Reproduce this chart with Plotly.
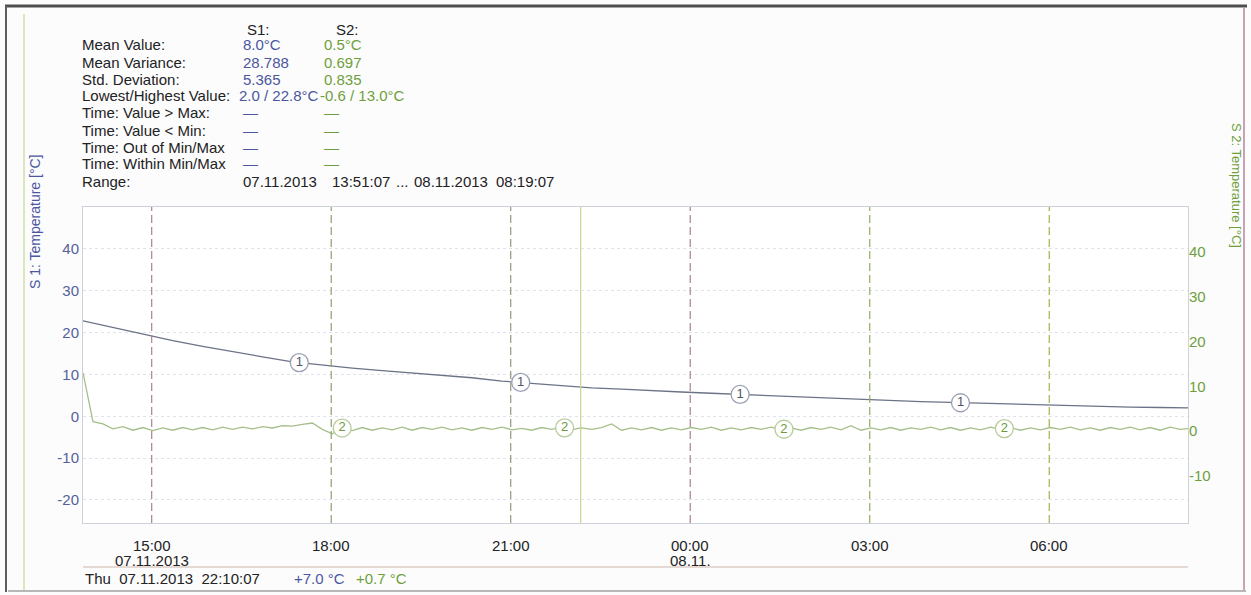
import numpy as np
import pandas as pd
import plotly.graph_objects as go

# ---- logged data -------------------------------------------------------
START = "2013-11-07 13:51:07"
END = "2013-11-08 08:19:07"

# S1 temperature, logged every 30 min from START (°C)
s1_values = [
    22.8, 21.2, 19.6, 18.1, 16.7, 15.4, 14.2, 13.0, 12.2, 11.5,
    10.9, 10.3, 9.7, 9.2, 8.4, 7.9, 7.3, 6.8, 6.5, 6.1,
    5.8, 5.5, 5.2, 4.9, 4.6, 4.3, 4.0, 3.8, 3.5, 3.3,
    3.1, 2.9, 2.7, 2.5, 2.4, 2.2, 2.1, 2.0,
]

# S2 temperature, logged every 10 min from START (°C)
s2_values = [
    13.0, 2.1, 1.6, 0.5, 1.0, 0.2, 0.8, 0.1, 0.7, 0.2, 0.8, 0.3,
    0.8, 0.3, 0.9, 0.4, 0.9, 0.5, 1.0, 0.7, 1.2, 1.1, 1.5, 1.8,
    0.4, -0.6, 0.7, 0.1, 0.8, 0.2, 0.7, 0.3, 0.9, 0.2, 0.8, 0.4,
    0.9, 0.3, 0.7, 0.2, 0.8, 0.4, 0.9, 0.3, 0.6, 0.2, 0.8, 0.4,
    0.9, 0.3, 0.7, 0.4, 0.8, 1.6, 0.2, 0.7, 0.3, 0.8, 0.2, 0.7,
    0.3, 0.8, 0.4, 0.9, 0.2, 0.7, 0.3, 0.8, 0.4, 0.9, 0.3, 0.7,
    0.2, 0.8, 0.4, 0.9, 0.3, 1.2, 0.2, 0.7, 0.3, 0.8, 0.2, 0.7,
    0.4, 0.9, 0.3, 0.8, 0.2, 0.7, 0.3, 0.9, 0.4, 0.8, 0.2, 0.7,
    0.3, 0.8, 0.4, 0.9, 0.3, 0.7, 0.2, 0.8, 0.4, 0.9, 0.3, 0.8,
    0.2, 0.9, 0.4, 0.6,
]

# cursor reading shown in the status line
cursor_time = "2013-11-07 22:10:07"
cursor_s1 = 7.0
cursor_s2 = 0.7

# summary statistics
stat_labels = ["Mean Value:", "Mean Variance:", "Std. Deviation:", "Lowest/Highest Value:",
               "Time: Value > Max:", "Time: Value < Min:", "Time: Out of Min/Max",
               "Time: Within Min/Max"]
stat_s1 = ["8.0°C", "28.788", "5.365", "2.0 / 22.8°C", "—", "—", "—", "—"]
stat_s2 = ["0.5°C", "0.697", "0.835", "-0.6 / 13.0°C", "—", "—", "—", "—"]
range_parts = ["07.11.2013", "13:51:07", "...", "08.11.2013", "08:19:07"]

# axis ticks
tick_times = ["2013-11-07 15:00", "2013-11-07 18:00", "2013-11-07 21:00",
              "2013-11-08 00:00", "2013-11-08 03:00", "2013-11-08 06:00"]
tick_hours = ["15:00", "18:00", "21:00", "00:00", "03:00", "06:00"]
tick_dates = ["07.11.2013", "", "", "08.11.", "", ""]
tick_line_colors = ["#a58494", "#8d9e72", "#8f9a7c", "#a58494", "#8fae5e", "#a3b24e"]
s1_ticks = [-20, -10, 0, 10, 20, 30, 40]
s2_ticks = [-10, 0, 10, 20, 30, 40]

# positions of the circled channel numbers
s1_badge_times = ["2013-11-07 17:28", "2013-11-07 21:10", "2013-11-08 00:50", "2013-11-08 04:31"]
s2_badge_times = ["2013-11-07 18:11", "2013-11-07 21:54", "2013-11-08 01:34", "2013-11-08 05:15"]

# ---- series assembly ---------------------------------------------------
def with_cursor(times, values, c_time, c_val):
    df = pd.DataFrame({"t": times, "v": values})
    df = pd.concat([df, pd.DataFrame({"t": [pd.Timestamp(c_time)], "v": [c_val]})])
    return df.sort_values("t").reset_index(drop=True)

s1_times = pd.date_range(START, periods=len(s1_values), freq="30min")
s2_times = pd.date_range(START, periods=len(s2_values), freq="10min")
s1 = with_cursor(s1_times, s1_values, cursor_time, cursor_s1)
s2 = with_cursor(s2_times, s2_values, cursor_time, cursor_s2)


def value_at(df, when):
    t = pd.to_datetime(when).value
    return float(np.interp(t, df["t"].astype("int64"), df["v"]))


S1_LINE = "#6c7387"
S1_TEXT = "#4b569e"
S2_LINE = "#a6bf8a"
S2_TEXT = "#6f9f3c"
INK = "#222222"
FONT = "Liberation Sans, Arial, sans-serif"

fig = go.Figure()

fig.add_trace(go.Scatter(x=s1["t"], y=s1["v"], mode="lines",
                         line=dict(color=S1_LINE, width=1.3), yaxis="y", hoverinfo="skip"))
fig.add_trace(go.Scatter(x=s2["t"], y=s2["v"], mode="lines",
                         line=dict(color=S2_LINE, width=1.3), yaxis="y2", hoverinfo="skip"))

fig.add_trace(go.Scatter(
    x=pd.to_datetime(s1_badge_times), y=[value_at(s1, t) for t in s1_badge_times],
    mode="markers+text", text=["1"] * len(s1_badge_times), textposition="middle center",
    textfont=dict(color="#4f5466", size=13, family=FONT),
    marker=dict(size=18, color="white", line=dict(color="#9aa0b4", width=1.3)),
    yaxis="y", hoverinfo="skip"))
fig.add_trace(go.Scatter(
    x=pd.to_datetime(s2_badge_times), y=[value_at(s2, t) for t in s2_badge_times],
    mode="markers+text", text=["2"] * len(s2_badge_times), textposition="middle center",
    textfont=dict(color="#6e9a3c", size=13, family=FONT),
    marker=dict(size=18, color="white", line=dict(color="#b7cc9c", width=1.3)),
    yaxis="y2", hoverinfo="skip"))

# plot area in pixels
PL, PR, PT, PB = 83, 1188, 207, 523
W, H = 1251, 595

shapes = []
# dashed time markers
for t, c in zip(tick_times, tick_line_colors):
    shapes.append(dict(type="line", xref="x", yref="paper", x0=t, x1=t, y0=0, y1=1,
                       line=dict(color=c, width=1.2, dash="8px,4px"), layer="above"))
# cursor line
shapes.append(dict(type="line", xref="x", yref="paper", x0=cursor_time, x1=cursor_time,
                   y0=0, y1=1, line=dict(color="#cdd48a", width=1.2)))


def px_x(x):
    return (x - PL) / (PR - PL)


def px_y(y):
    return (PB - y) / (PB - PT)


def px_line(x0, y0, x1, y1, color, width):
    return dict(type="line", xref="paper", yref="paper",
                x0=px_x(x0), x1=px_x(x1), y0=px_y(y0), y1=px_y(y1),
                line=dict(color=color, width=width), layer="above")

# frame of the printout
shapes += [
    px_line(5, 6, 1247, 6, "#4e4e4e", 3),
    px_line(6, 6, 6, 592, "#5e5e5e", 2),
    px_line(24, 14, 24, 590, "#cfe0a8", 1.5),
    px_line(1244, 8, 1244, 590, "#c9a3b3", 2),
    px_line(8, 591, 1246, 591, "#a0a0a0", 1.5),
    px_line(PL, 567, PR, 567, "#dccfc4", 1.3),
]

annotations = []


def px_text(x, y, text, color=INK, size=15, anchor="left", xref="paper", **kw):
    annotations.append(dict(xref=xref, yref="paper",
                            x=px_x(x) if xref == "paper" else x, y=px_y(y),
                            text=text, showarrow=False, xanchor=anchor, yanchor="middle",
                            font=dict(family=FONT, size=size, color=color), **kw))

# statistics block
row0, step = 45, 17.0
px_text(245, 30, "S1:")
px_text(334, 30, "S2:")
for i, (lab, a, b) in enumerate(zip(stat_labels, stat_s1, stat_s2)):
    y = row0 + i * step
    px_text(80, y, lab)
    px_text(237 if i == 3 else 241, y, a, color=S1_TEXT)
    px_text(318 if i == 3 else 322, y, b, color=S2_TEXT)
y_range = row0 + 8 * step
px_text(80, y_range, "Range:")
for x, part in zip([241, 330, 394, 412, 494], range_parts):
    px_text(x, y_range, part)

# time axis labels
for t, hh, dd in zip(tick_times, tick_hours, tick_dates):
    px_text(t, 545, hh, anchor="center", xref="x")
    if dd:
        px_text(t, 560, dd, anchor="center", xref="x")

# axis titles
px_text(35, 222, "S 1: Temperature [°C]", color=S1_TEXT, size=14, anchor="center", textangle=-90)
px_text(1237, 185, "S 2: Temperature [°C]", color=S2_TEXT, size=13, anchor="center", textangle=90)

# status line
px_text(83, 578, "Thu  07.11.2013  22:10:07")
px_text(292, 578, f"+{cursor_s1:.1f} °C", color=S1_TEXT)
px_text(354, 578, f"+{cursor_s2:.1f} °C", color=S2_TEXT)

fig.update_layout(
    width=W, height=H,
    margin=dict(l=PL, r=W - PR, t=PT, b=H - PB),
    paper_bgcolor="#fcfcfd", plot_bgcolor="#ffffff",
    showlegend=False,
    font=dict(family=FONT, size=15, color=INK),
    shapes=shapes, annotations=annotations,
    xaxis=dict(type="date", range=[START, END], tickvals=tick_times,
               showticklabels=False, showgrid=False, showline=True, mirror=True,
               linecolor="#cdd1d9", ticks="", zeroline=False),
    yaxis=dict(range=[-25.5, 50], tickvals=s1_ticks, ticktext=[str(v) for v in s1_ticks],
               showgrid=True, gridcolor="#dfe2ea", griddash="dot",
               showline=True, mirror=True, linecolor="#cdd1d9", zeroline=False,
               ticks="", tickfont=dict(size=15, color="#55609a")),
    yaxis2=dict(range=[-20.5, 50], tickvals=s2_ticks, ticktext=[str(v) for v in s2_ticks],
                overlaying="y", side="right", showgrid=False, zeroline=False, ticks="",
                tickfont=dict(size=15, color=S2_TEXT)),
)

fig.write_html("out.html")
